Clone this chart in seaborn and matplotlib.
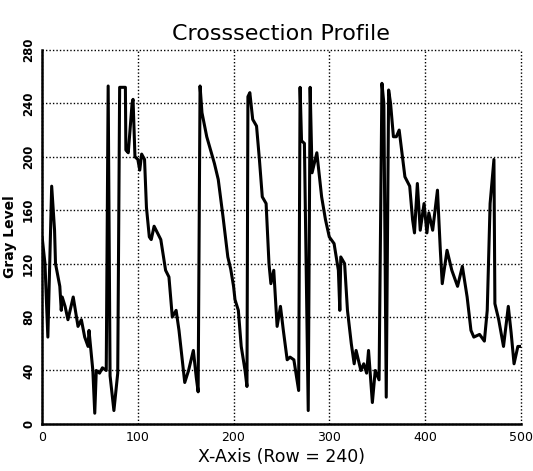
import numpy as np
import pandas as pd
import seaborn as sns
import matplotlib.pyplot as plt

# profile (row 240)
row_x = [0, 3, 6, 8, 10, 13, 14, 18.5, 20, 21, 24, 27, 32.5, 37.5, 41, 44.5, 48, 49, 51, 53,
         55, 56.6, 60, 63, 67, 69, 71, 75, 79, 81, 87, 87.5, 90, 94, 95, 97, 100, 102, 104, 107,
         109, 112, 114, 117, 124, 129, 132.5, 136, 140, 143, 149, 153, 158, 161, 163, 165, 167, 172, 180, 184,
         189, 194, 197, 200, 201.5, 205, 208, 212, 214, 215, 217, 220, 224, 227, 230, 234, 237, 239, 242, 245.5,
         249, 252, 256, 259, 263, 268, 269.5, 271, 274, 278, 280, 282, 287, 292, 296, 300, 305, 309.5, 311, 312,
         316, 319, 323, 326, 328, 333, 336, 339, 341, 345, 348, 352, 355, 357, 359.5, 362, 364, 367, 370, 373,
         379, 384, 387, 389, 392, 395, 399, 402, 404, 408, 413, 416, 418, 423, 428, 434, 439, 444, 448, 451,
         457, 462, 465, 468, 472, 473, 477, 482, 487, 490, 493, 497, 500]
gray = [140, 120, 65, 120, 178, 145, 120, 103, 85, 95, 88, 78, 95, 73, 78, 65, 58, 70, 55, 40,
        8, 40, 38, 42, 40, 253, 36, 10, 38, 252, 252, 205, 203, 240, 243, 200, 198, 190, 202, 198,
        162, 140, 138, 148, 138, 115, 110, 80, 85, 70, 31, 40, 55, 35, 24, 253, 233, 215, 195, 183,
        155, 125, 116, 103, 93, 85, 58, 40, 28, 245, 248, 228, 223, 198, 170, 165, 120, 105, 115, 73,
        88, 70, 48, 50, 48, 25, 252, 212, 210, 10, 252, 188, 203, 170, 153, 140, 135, 115, 85, 125,
        120, 85, 60, 45, 55, 40, 45, 38, 55, 16, 40, 33, 255, 240, 20, 250, 240, 215, 215, 220,
        185, 178, 153, 143, 180, 145, 165, 143, 158, 145, 175, 130, 105, 130, 115, 103, 118, 95, 70, 65,
        67, 62, 85, 165, 198, 90, 78, 58, 88, 68, 45, 58, 58]

x_ticks = [0, 100, 200, 300, 400, 500]
y_ticks = [0, 40, 80, 120, 160, 200, 240, 280]

df = pd.DataFrame({"x": row_x, "gray": gray})

sns.set_style("white")
plt.rcParams['font.family'] = ['DejaVu Sans']
plt.rcParams['text.color'] = 'black'
plt.rcParams['axes.labelcolor'] = 'black'

fig, ax = plt.subplots(figsize=(5.33, 4.71), dpi=100)
fig.subplots_adjust(left=0.079, right=0.977, bottom=0.10, top=0.894)

sns.lineplot(data=df, x="x", y="gray", color="black", lw=2.2, ax=ax)

ax.set_xlim(0, 500)
ax.set_ylim(0, 280)
ax.set_xticks(x_ticks)
ax.set_yticks(y_ticks)
ax.set_xticklabels([str(v) for v in x_ticks], fontsize=9)
ax.set_yticklabels([str(v) for v in y_ticks], fontsize=8.5, rotation=90,
                   va="center", fontweight="bold")
ax.tick_params(axis="both", length=3, width=1, pad=2, colors="black")

ax.grid(True, ls=(0, (1, 1.5)), color="black", lw=1.0)
for gl in ax.get_xgridlines() + ax.get_ygridlines():
    gl.set_clip_on(False)

for side in ["top", "right"]:
    ax.spines[side].set_visible(False)
for side in ["left", "bottom"]:
    ax.spines[side].set_color("black")
    ax.spines[side].set_linewidth(1.8)

ax.set_title("Crosssection Profile", fontsize=16, pad=7, color="black")
ax.set_xlabel("X-Axis (Row = 240)", fontsize=12.5, labelpad=3)
ax.set_ylabel("Gray Level", fontsize=10, fontweight="bold", labelpad=4)

plt.savefig("out.png", dpi=100)
